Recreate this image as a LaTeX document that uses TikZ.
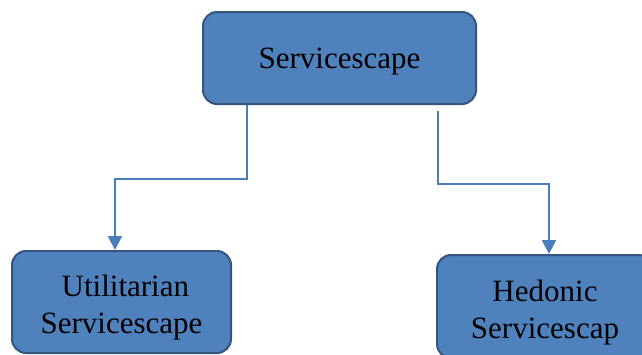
\documentclass[tikz,border=0pt]{standalone}
\usepackage{fontspec}
\setmainfont{Liberation Serif}
\usetikzlibrary{arrows.meta}
\definecolor{boxfill}{HTML}{4F81BD}
\definecolor{boxborder}{HTML}{34557D}
\definecolor{linecol}{HTML}{4A7EBB}
\begin{document}
\begin{tikzpicture}[x=1pt,y=-1pt,
  box/.style={draw=boxborder, fill=boxfill, line width=2pt, rounded corners=14pt, inner sep=0pt},
  boxtext/.style={align=center, font=\fontsize{31}{37}\selectfont, inner sep=0pt},
  conn/.style={draw=linecol, line width=2.2pt, -{Triangle[width=14pt,length=14pt]}}]
\useasboundingbox (0,0) rectangle (642,354);
\clip (0,0) rectangle (642,354);
\node[box, minimum width=273pt, minimum height=92pt] (top) at (339.5,58) {};
\node[box, minimum width=219pt, minimum height=102pt] (left) at (121.5,302) {};
\node[box, minimum width=216pt, minimum height=103pt] (right) at (545,306.5) {};
\node[boxtext] (topt) at ([yshift=-4pt]top.center) {Servicescape};
\node[boxtext] (leftt) at ([yshift=-6pt]left.center) {\ Utilitarian\\Servicescape};
\node[boxtext] (rightt) at ([yshift=-6pt]right.center) {Hedonic\\Servicescap};
\draw[conn] ([xshift=-92.5pt]top.south) -- ++(0,74) -| ([xshift=-6.5pt]left.north);
\draw[conn] ([xshift=98.5pt,yshift=-6pt]top.south) -- ++(0,73) -| ([xshift=4pt]right.north);
\end{tikzpicture}
\end{document}
